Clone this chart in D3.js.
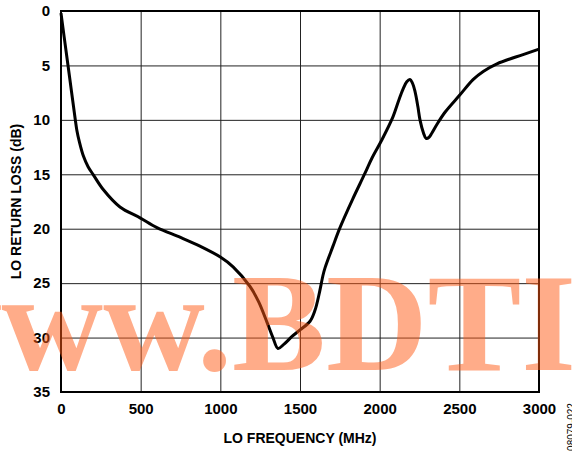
<!DOCTYPE html>
<html>
<head>
<meta charset="utf-8">
<script src="https://cdn.jsdelivr.net/npm/d3@7"></script>
<style>
  html, body { margin: 0; padding: 0; background: #fff; }
  svg { display: block; }
</style>
</head>
<body>
<svg id="chart" width="572" height="452"></svg>
<script>
// ---- data ----
const freqMHz = [0, 20, 44, 65, 88, 100, 115, 140, 170, 203, 265, 370, 496, 602, 750, 872, 1000, 1080, 1186, 1240, 1293, 1330, 1362, 1400, 1450, 1500, 1563, 1594, 1620, 1644, 1657, 1707, 1751, 1830, 1908, 1952, 2015, 2084, 2120, 2146, 2170, 2190, 2205, 2222, 2240, 2253, 2275, 2291, 2310, 2328, 2360, 2410, 2504, 2586, 2650, 2736, 2900, 3000];
const returnLossDb = [0.2, 2.4, 5.0, 7.3, 9.8, 11.0, 12.0, 13.3, 14.3, 15.05, 16.4, 18.0, 19.0, 19.9, 20.8, 21.6, 22.6, 23.5, 25.3, 26.7, 28.6, 30.0, 31.0, 30.6, 29.9, 29.3, 28.5, 27.5, 26.0, 24.3, 23.6, 21.6, 19.9, 17.3, 14.9, 13.5, 11.8, 9.7, 8.2, 7.2, 6.5, 6.3, 6.6, 7.4, 8.8, 10.0, 11.2, 11.7, 11.6, 11.2, 10.4, 9.3, 7.7, 6.3, 5.55, 4.85, 4.0, 3.5];
const xTicks = [0, 500, 1000, 1500, 2000, 2500, 3000];
const yTicks = [0, 5, 10, 15, 20, 25, 30, 35];
const xTitle = "LO FREQUENCY (MHz)";
const yTitle = "LO RETURN LOSS (dB)";
const figId = "08079-022";
const watermark = "www.BDTI";

// ---- layout ----
const SANS = "'Liberation Sans', Arial, sans-serif";
const svg = d3.select("#chart");
const L = 61, R = 539, T = 11, B = 392;
const x = d3.scaleLinear().domain([0, 3000]).range([L, R]);
const y = d3.scaleLinear().domain([0, 35]).range([T, B]);

// grid
const gx = svg.append("g").attr("transform", `translate(0,${B})`)
  .call(d3.axisBottom(x).tickValues(xTicks).tickSize(-(B - T)).tickPadding(11).tickFormat(d3.format("d")));
gx.select(".domain").remove();
gx.selectAll("line").attr("stroke", "#222").attr("stroke-width", 1);
gx.selectAll("text").style("font-family", SANS).style("font-size", "15px").style("font-weight", "bold").attr("fill", "#000");

const gy = svg.append("g").attr("transform", `translate(${L},0)`)
  .call(d3.axisLeft(y).tickValues(yTicks).tickSize(-(R - L)).tickPadding(11).tickFormat(d3.format("d")));
gy.select(".domain").remove();
gy.selectAll("line").attr("stroke", "#222").attr("stroke-width", 1);
gy.selectAll("text").style("font-family", SANS).style("font-size", "15px").style("font-weight", "bold").attr("fill", "#000");

// border
svg.append("rect").attr("x", L).attr("y", T).attr("width", R - L).attr("height", B - T)
  .attr("fill", "none").attr("stroke", "#000").attr("stroke-width", 2);

// curve
const pts = freqMHz.map((f, i) => [f, returnLossDb[i]]);
svg.append("path").datum(pts)
  .attr("fill", "none").attr("stroke", "#000").attr("stroke-width", 3)
  .attr("stroke-linejoin", "round")
  .attr("d", d3.line().x(d => x(d[0])).y(d => y(d[1])).curve(d3.curveCatmullRom.alpha(0.5)));

// titles
svg.append("text").attr("x", (L + R) / 2).attr("y", 443).attr("text-anchor", "middle")
  .style("font-family", SANS).style("font-size", "14px").style("font-weight", "bold").text(xTitle);
svg.append("text").attr("transform", `translate(21,${(T + B) / 2}) rotate(-90)`).attr("text-anchor", "middle")
  .style("font-family", SANS).style("font-size", "14px").style("font-weight", "bold").text(yTitle);
svg.append("text").attr("transform", `translate(575,427) rotate(-90)`).attr("text-anchor", "middle")
  .style("font-family", SANS).style("font-size", "10px").text(figId);

// watermark
svg.append("text").attr("x", -100).attr("y", 370)
  .style("font-family", "'Liberation Serif', 'Times New Roman', serif")
  .style("font-weight", "bold").style("font-size", "140px")
  .attr("fill", "rgb(255,90,20)").attr("fill-opacity", 0.5)
  .attr("textLength", 676).attr("lengthAdjust", "spacingAndGlyphs")
  .text(watermark);
</script>
</body>
</html>
